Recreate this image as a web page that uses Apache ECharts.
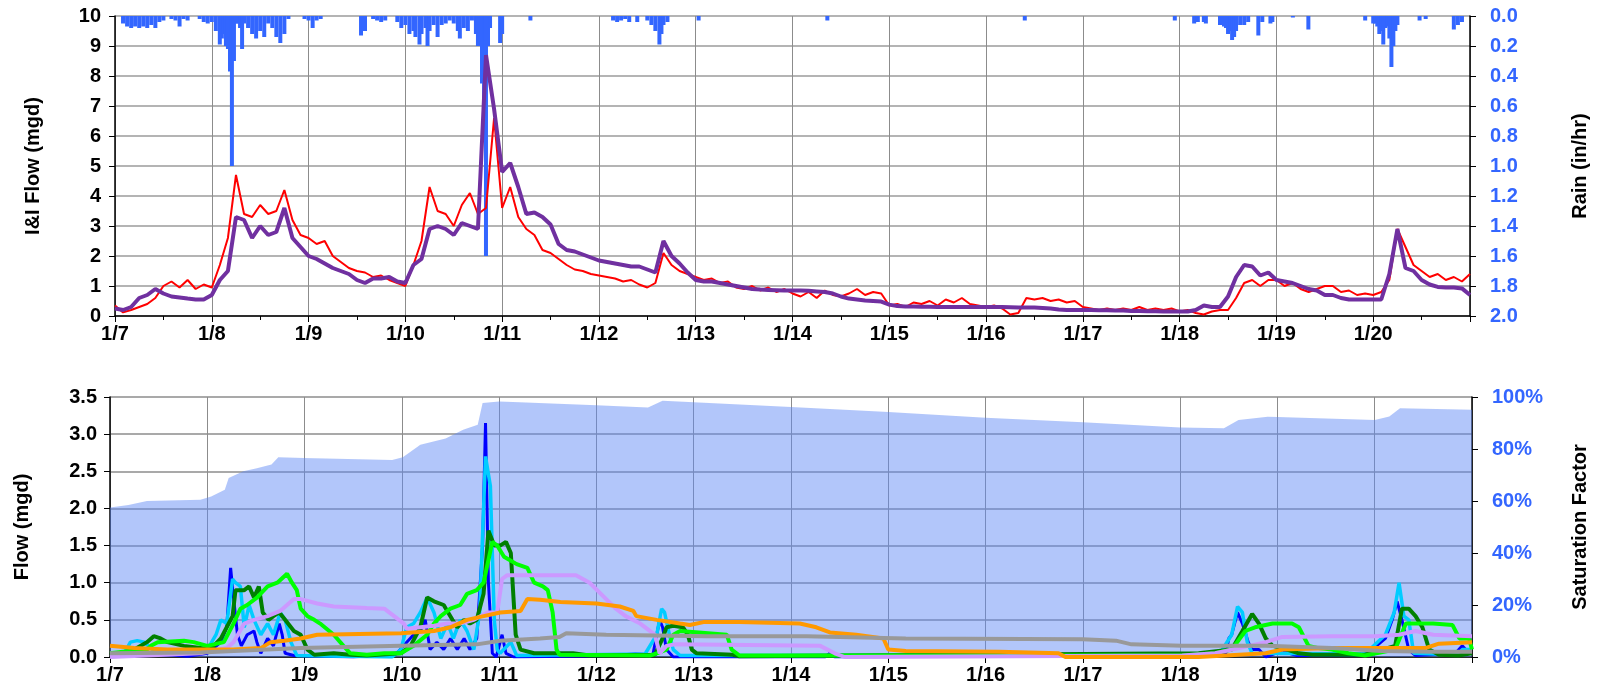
<!DOCTYPE html>
<html>
<head>
<meta charset="utf-8">
<script src="https://cdn.jsdelivr.net/npm/echarts@6/dist/echarts.min.js"></script>
<style>
  html, body { margin: 0; padding: 0; background: #fff; }
  #main { width: 1598px; height: 694px; }
</style>
</head>
<body>
<div id="main"></div>
<script>
var myChart = echarts.init(document.getElementById('main'));

// tick labels for the days (x = days after 1/7 00:00)
const dayLabels = ['1/7', '1/8', '1/9', '1/10', '1/11', '1/12', '1/13', '1/14', '1/15', '1/16', '1/17', '1/18', '1/19', '1/20'];

// I&I flow, one value every 2 hours (12 per day), last one is 1/21 00:00
const observedIi = [
  0.35, 0.12, 0.2, 0.3, 0.4, 0.6, 1.0, 1.15, 0.95, 1.2, 0.9, 1.05,
  0.95, 1.7, 2.6, 4.7, 3.4, 3.3, 3.7, 3.4, 3.5, 4.2, 3.2, 2.7,
  2.6, 2.4, 2.5, 2.0, 1.8, 1.6, 1.5, 1.45, 1.3, 1.35, 1.2, 1.1,
  1.0, 1.7, 2.5, 4.3, 3.5, 3.4, 3.0, 3.7, 4.1, 3.4, 3.6, 6.6,
  3.6, 4.3, 3.3, 2.9, 2.7, 2.2, 2.1, 1.9, 1.7, 1.55, 1.5, 1.4,
  1.35, 1.3, 1.25, 1.15, 1.2, 1.05, 0.95, 1.1, 2.1, 1.7, 1.5, 1.4,
  1.3, 1.2, 1.25, 1.1, 1.15, 0.95, 0.9, 1.0, 0.85, 0.95, 0.8, 0.9,
  0.75, 0.65, 0.8, 0.6, 0.85, 0.7, 0.65, 0.75, 0.9, 0.7, 0.8, 0.75,
  0.35, 0.4, 0.3, 0.45, 0.4, 0.5, 0.35, 0.55, 0.45, 0.6, 0.4, 0.35,
  0.3, 0.35, 0.25, 0.05, 0.1, 0.6, 0.55, 0.6, 0.5, 0.55, 0.45, 0.5,
  0.3, 0.25, 0.2, 0.25, 0.2, 0.25, 0.2, 0.3, 0.2, 0.25, 0.2, 0.25,
  0.15, 0.2, 0.1, 0.05, 0.15, 0.2, 0.2, 0.6, 1.1, 1.2, 1.0, 1.2,
  1.2, 1.0, 1.1, 0.9, 0.8, 0.9, 1.0, 1.0, 0.8, 0.85, 0.7, 0.75,
  0.7, 0.8, 1.2, 2.9, 2.3, 1.7, 1.5, 1.3, 1.4, 1.2, 1.3, 1.15,
  1.4
];
const modeledIi = [
  0.25, 0.2, 0.3, 0.6, 0.7, 0.9, 0.75, 0.65, 0.62, 0.58, 0.55, 0.55,
  0.7, 1.2, 1.5, 3.3, 3.2, 2.6, 3.0, 2.7, 2.8, 3.6, 2.6, 2.3,
  2.0, 1.9, 1.75, 1.6, 1.5, 1.4, 1.2, 1.1, 1.25, 1.25, 1.3, 1.15,
  1.1, 1.7, 1.9, 2.9, 3.0, 2.9, 2.7, 3.1, 3.0, 2.9, 8.7, 6.9,
  4.8, 5.1, 4.3, 3.4, 3.45, 3.3, 3.05, 2.4, 2.2, 2.15, 2.05, 1.95,
  1.85, 1.8, 1.75, 1.7, 1.65, 1.65, 1.55, 1.45, 2.5, 2.0, 1.75, 1.45,
  1.2, 1.15, 1.15, 1.1, 1.05, 1.0, 0.95, 0.9, 0.88, 0.87, 0.86, 0.85,
  0.85, 0.85, 0.84, 0.82, 0.8, 0.75, 0.65, 0.58, 0.55, 0.52, 0.5, 0.48,
  0.38, 0.33, 0.32, 0.32, 0.31, 0.31, 0.3, 0.3, 0.3, 0.3, 0.3, 0.3,
  0.3, 0.3, 0.3, 0.29, 0.28, 0.28, 0.28, 0.27, 0.25, 0.22, 0.2, 0.2,
  0.2, 0.2, 0.19, 0.19, 0.18, 0.18, 0.17, 0.17, 0.16, 0.16, 0.15, 0.15,
  0.15, 0.15, 0.2, 0.35, 0.3, 0.3, 0.65, 1.3, 1.7, 1.65, 1.35, 1.45,
  1.2, 1.15, 1.1, 1.0, 0.9, 0.85, 0.7, 0.7, 0.6, 0.55, 0.55, 0.55,
  0.55, 0.55, 1.4, 2.9, 1.6, 1.5, 1.2, 1.05, 0.97, 0.95, 0.95, 0.92,
  0.7
];

// rain [day, in/hr], roughly hourly during the storms
const rain = [
  [0.083, 0.05], [0.125, 0.07], [0.167, 0.08], [0.208, 0.07], [0.25, 0.08], [0.292, 0.07], [0.333, 0.08],
  [0.375, 0.06], [0.417, 0.08], [0.458, 0.04], [0.5, 0.03], [0.583, 0.02], [0.625, 0.03], [0.667, 0.07],
  [0.708, 0.02], [0.75, 0.03],
  [0.875, 0.02], [0.917, 0.04], [0.958, 0.05], [1.0, 0.04], [1.042, 0.1], [1.083, 0.19], [1.104, 0.15],
  [1.125, 0.12], [1.146, 0.2], [1.167, 0.22], [1.188, 0.37], [1.208, 1.0], [1.229, 0.3], [1.25, 0.05],
  [1.271, 0.05], [1.292, 0.08], [1.313, 0.22], [1.333, 0.05], [1.375, 0.08], [1.417, 0.12], [1.458, 0.15],
  [1.5, 0.1], [1.542, 0.14], [1.583, 0.05], [1.625, 0.08], [1.667, 0.14], [1.708, 0.18], [1.75, 0.12], [1.792, 0.02],
  [1.958, 0.02], [2.0, 0.03], [2.042, 0.08], [2.083, 0.03], [2.125, 0.02],
  [2.542, 0.13], [2.583, 0.1], [2.667, 0.02], [2.708, 0.03], [2.75, 0.04], [2.792, 0.03],
  [2.917, 0.04], [2.958, 0.08], [3.0, 0.06], [3.042, 0.12], [3.083, 0.1], [3.104, 0.14], [3.146, 0.19],
  [3.167, 0.12], [3.208, 0.08], [3.229, 0.2], [3.25, 0.1], [3.292, 0.06], [3.333, 0.14], [3.375, 0.06],
  [3.417, 0.05], [3.458, 0.03], [3.5, 0.05], [3.542, 0.1], [3.563, 0.15], [3.604, 0.08], [3.646, 0.1],
  [3.688, 0.03], [3.729, 0.12], [3.75, 0.2], [3.771, 0.2], [3.792, 0.45], [3.813, 0.8], [3.833, 1.6],
  [3.854, 0.2], [3.875, 0.08], [3.979, 0.18], [4.0, 0.12], [4.292, 0.03],
  [5.146, 0.03], [5.188, 0.04], [5.229, 0.03], [5.271, 0.02], [5.313, 0.04], [5.396, 0.04], [5.5, 0.03],
  [5.542, 0.06], [5.583, 0.1], [5.625, 0.19], [5.646, 0.12], [5.667, 0.06], [5.708, 0.04], [6.03, 0.03],
  [7.36, 0.03], [9.4, 0.03], [10.95, 0.03],
  [11.15, 0.05], [11.188, 0.04], [11.25, 0.04], [11.271, 0.05], [11.417, 0.06], [11.458, 0.07], [11.479, 0.08],
  [11.5, 0.12], [11.521, 0.1], [11.542, 0.16], [11.563, 0.14], [11.583, 0.1], [11.625, 0.06], [11.667, 0.06],
  [11.708, 0.04], [11.813, 0.13], [11.854, 0.04], [11.938, 0.05], [11.958, 0.04], [12.17, 0.01], [12.33, 0.09],
  [12.917, 0.03], [13.0, 0.05], [13.021, 0.05], [13.042, 0.07], [13.063, 0.12], [13.083, 0.1], [13.104, 0.19],
  [13.125, 0.08], [13.146, 0.07], [13.167, 0.15], [13.188, 0.34], [13.208, 0.2], [13.229, 0.1], [13.25, 0.06],
  [13.479, 0.03], [13.542, 0.02], [13.833, 0.09], [13.875, 0.06], [13.917, 0.04]
];

// saturation factor [day, %]
const saturation = [
  [0, 57.5], [0.19, 58.5], [0.38, 60], [0.93, 60.5], [1.04, 61.7], [1.18, 64.3], [1.22, 68.8], [1.37, 71.4],
  [1.51, 72.6], [1.66, 74], [1.73, 76.8], [1.99, 76.5], [2.9, 75.8], [3.01, 76.8], [3.19, 81.6], [3.45, 84],
  [3.63, 87.4], [3.78, 89.3], [3.83, 97.7], [4.0, 98.3], [4.21, 98], [5.0, 96.8], [5.53, 96], [5.68, 98.6],
  [6.0, 98], [7.0, 96.2], [8.0, 94.2], [9.0, 92], [10.0, 90.3], [11.0, 88.3], [11.45, 88], [11.6, 91.2],
  [11.9, 92.4], [12.0, 92.3], [13.0, 91.2], [13.15, 92.5], [13.26, 95.7], [14.0, 95.1]
];

// component flows [day, mgd]
const blueFlow = [
  [0, 0.02], [0.2, 0.04], [0.3, 0.06], [0.4, 0.02], [0.6, 0.03], [0.8, 0.01], [1.0, 0.05], [1.14, 0.2], [1.2, 0.4],
  [1.24, 1.2], [1.27, 0.8], [1.31, 0.3], [1.35, 0.15], [1.41, 0.3], [1.48, 0.35], [1.51, 0.2], [1.55, 0.05],
  [1.62, 0.25], [1.68, 0.15], [1.74, 0.45], [1.77, 0.3], [1.8, 0.05], [1.89, 0.02], [2.5, 0.0], [2.95, 0.05],
  [3.05, 0.2], [3.12, 0.3], [3.19, 0.35], [3.24, 0.5], [3.29, 0.1], [3.36, 0.2], [3.43, 0.1], [3.5, 0.25],
  [3.57, 0.1], [3.64, 0.25], [3.7, 0.1], [3.77, 0.25], [3.83, 1.5], [3.86, 3.15], [3.89, 1.0], [3.93, 0.05],
  [3.97, 0.0], [4.03, 0.3], [4.07, 0.05], [4.15, 0.0], [5.14, 0.02], [5.4, 0.04], [5.58, 0.03], [5.62, 0.3],
  [5.65, 0.5], [5.68, 0.4], [5.72, 0.1], [5.79, 0.0], [7.35, 0.0], [7.4, 0.05], [7.45, 0.0], [10.95, 0.03],
  [11.47, 0.05], [11.5, 0.25], [11.53, 0.3], [11.59, 0.6], [11.64, 0.45], [11.7, 0.2], [11.74, 0.1], [11.81, 0.1],
  [11.88, 0.0], [11.98, 0.05], [12.05, 0.1], [12.12, 0.05], [12.2, 0.02], [12.9, 0.02], [13.11, 0.25], [13.18, 0.5],
  [13.23, 0.75], [13.28, 0.5], [13.35, 0.1], [13.42, 0.02], [13.83, 0.05], [13.9, 0.15], [13.97, 0.05], [14, 0.05]
];
const cyanFlow = [
  [0, 0.05], [0.15, 0.06], [0.21, 0.2], [0.28, 0.22], [0.35, 0.2], [0.42, 0.12], [0.49, 0.05], [0.93, 0.05],
  [1.0, 0.1], [1.09, 0.3], [1.14, 0.5], [1.2, 0.45], [1.26, 1.05], [1.29, 1.0], [1.34, 0.95], [1.38, 0.4],
  [1.43, 0.7], [1.48, 0.5], [1.55, 0.3], [1.62, 0.45], [1.68, 0.3], [1.75, 0.6], [1.8, 0.5], [1.86, 0.2],
  [1.92, 0.02], [2.9, 0.0], [2.99, 0.1], [3.05, 0.4], [3.12, 0.45], [3.19, 0.6], [3.26, 0.8], [3.33, 0.6],
  [3.4, 0.25], [3.47, 0.45], [3.53, 0.25], [3.6, 0.5], [3.67, 0.35], [3.74, 0.1], [3.8, 0.6], [3.86, 2.7],
  [3.91, 2.3], [3.95, 0.5], [3.98, 0.1], [4.01, 0.05], [4.12, 0.2], [4.18, 0.02], [5.5, 0.04], [5.62, 0.3],
  [5.67, 0.65], [5.7, 0.6], [5.75, 0.3], [5.79, 0.1], [5.86, 0.02], [11.4, 0.03], [11.53, 0.3], [11.59, 0.68],
  [11.64, 0.6], [11.69, 0.2], [11.74, 0.05], [12.9, 0.04], [13.11, 0.3], [13.2, 0.6], [13.25, 1.0], [13.3, 0.55],
  [13.35, 0.5], [13.4, 0.05], [13.85, 0.03], [13.9, 0.1], [14, 0.1]
];
const darkGreenFlow = [
  [0, 0.02], [0.25, 0.1], [0.38, 0.2], [0.45, 0.28], [0.52, 0.25], [0.59, 0.2], [0.76, 0.15], [0.93, 0.12],
  [1.03, 0.1], [1.14, 0.25], [1.2, 0.4], [1.26, 0.55], [1.29, 0.9], [1.38, 0.9], [1.43, 0.95], [1.48, 0.8],
  [1.53, 0.95], [1.57, 0.6], [1.63, 0.5], [1.68, 0.55], [1.74, 0.6], [1.8, 0.5], [1.89, 0.35], [1.96, 0.3],
  [2.03, 0.1], [2.1, 0.03], [2.3, 0.05], [2.47, 0.03], [2.64, 0.02], [2.99, 0.05], [3.09, 0.15], [3.19, 0.4],
  [3.26, 0.8], [3.33, 0.75], [3.43, 0.7], [3.52, 0.5], [3.57, 0.4], [3.64, 0.5], [3.7, 0.45], [3.77, 0.5],
  [3.84, 0.85], [3.89, 1.7], [3.95, 1.5], [4.01, 1.5], [4.07, 1.55], [4.12, 1.4], [4.17, 0.3], [4.22, 0.1],
  [4.36, 0.05], [4.76, 0.05], [4.93, 0.02], [5.6, 0.03], [5.68, 0.25], [5.72, 0.4], [5.79, 0.42], [5.89, 0.4],
  [5.94, 0.3], [5.98, 0.1], [6.03, 0.05], [6.4, 0.03], [6.47, 0.01], [11.19, 0.05], [11.53, 0.1], [11.64, 0.35],
  [11.74, 0.58], [11.81, 0.45], [11.88, 0.25], [11.95, 0.15], [12.05, 0.12], [12.22, 0.05], [12.36, 0.03],
  [12.9, 0.03], [13.21, 0.15], [13.28, 0.65], [13.35, 0.65], [13.42, 0.55], [13.49, 0.4], [13.56, 0.1],
  [13.66, 0.03], [13.86, 0.02], [14, 0.05]
];
const greenFlow = [
  [0, 0.05], [0.2, 0.08], [0.38, 0.1], [0.42, 0.15], [0.49, 0.2], [0.76, 0.22], [0.86, 0.2], [1.0, 0.15],
  [1.17, 0.2], [1.27, 0.45], [1.34, 0.65], [1.41, 0.7], [1.51, 0.8], [1.62, 0.95], [1.72, 1.0], [1.82, 1.12],
  [1.87, 1.0], [1.92, 0.9], [1.96, 0.65], [2.03, 0.55], [2.1, 0.5], [2.16, 0.45], [2.3, 0.3], [2.4, 0.15],
  [2.47, 0.05], [2.64, 0.03], [2.82, 0.05], [2.99, 0.05], [3.12, 0.15], [3.26, 0.3], [3.33, 0.45], [3.4, 0.55],
  [3.5, 0.65], [3.6, 0.7], [3.67, 0.85], [3.77, 0.9], [3.84, 1.0], [3.93, 1.55], [3.98, 1.5], [4.05, 1.35],
  [4.18, 1.25], [4.29, 1.2], [4.36, 1.0], [4.45, 0.95], [4.5, 0.9], [4.55, 0.6], [4.59, 0.1], [4.62, 0.03],
  [5.55, 0.02], [5.62, 0.05], [5.72, 0.1], [5.79, 0.3], [5.86, 0.35], [6.34, 0.3], [6.39, 0.1], [6.47, 0.02],
  [11.02, 0.02], [11.36, 0.05], [11.53, 0.1], [11.67, 0.35], [11.77, 0.4], [11.95, 0.45], [12.15, 0.45],
  [12.22, 0.4], [12.32, 0.15], [12.42, 0.12], [12.56, 0.1], [12.73, 0.05], [12.9, 0.02], [13.21, 0.1],
  [13.32, 0.45], [13.6, 0.45], [13.8, 0.43], [13.87, 0.25], [13.97, 0.25], [14, 0.1]
];
const lavenderFlow = [
  [0, 0.0], [0.93, 0.05], [1.03, 0.08], [1.2, 0.12], [1.27, 0.2], [1.38, 0.45], [1.48, 0.5], [1.62, 0.55],
  [1.75, 0.62], [1.89, 0.78], [1.96, 0.78], [2.13, 0.72], [2.3, 0.68], [2.64, 0.66], [2.82, 0.65], [2.92, 0.55],
  [3.02, 0.45], [3.05, 0.38], [3.33, 0.42], [3.47, 0.45], [3.6, 0.45], [3.74, 0.5], [3.88, 0.6], [3.98, 0.6],
  [4.03, 1.05], [4.08, 1.1], [4.79, 1.1], [4.93, 1.0], [5.1, 0.78], [5.2, 0.65], [5.3, 0.55], [5.45, 0.45],
  [5.6, 0.3], [5.65, 0.05], [5.72, 0.15], [5.8, 0.17], [7.3, 0.15], [7.45, 0.05], [7.55, 0.0], [11.02, 0.02],
  [11.36, 0.05], [11.71, 0.15], [11.88, 0.2], [12.05, 0.27], [12.56, 0.28], [13.0, 0.28], [13.25, 0.3],
  [13.42, 0.35], [13.6, 0.3], [14, 0.28]
];
const orangeFlow = [
  [0, 0.15], [0.25, 0.12], [0.59, 0.1], [1.27, 0.1], [1.55, 0.12], [1.65, 0.2], [1.79, 0.22], [1.96, 0.25],
  [2.13, 0.3], [2.99, 0.32], [3.33, 0.35], [3.5, 0.4], [3.67, 0.5], [3.84, 0.55], [4.01, 0.6], [4.22, 0.62],
  [4.29, 0.78], [4.42, 0.77], [4.63, 0.74], [5.0, 0.72], [5.24, 0.68], [5.38, 0.62], [5.41, 0.55], [5.62, 0.5],
  [5.86, 0.45], [5.96, 0.43], [6.1, 0.47], [6.47, 0.47], [7.09, 0.45], [7.26, 0.4], [7.4, 0.33], [7.67, 0.3],
  [7.95, 0.25], [8.0, 0.1], [8.18, 0.08], [9.14, 0.07], [9.75, 0.05], [9.82, 0.0], [11.19, 0.0], [11.88, 0.05],
  [12.05, 0.1], [12.56, 0.12], [13.52, 0.12], [13.66, 0.18], [14, 0.2]
];
const grayFlow = [
  [0, 0.05], [0.93, 0.06], [1.96, 0.12], [2.99, 0.15], [3.77, 0.17], [4.01, 0.22], [4.42, 0.25], [4.62, 0.27],
  [4.69, 0.32], [5.1, 0.3], [6.13, 0.28], [7.16, 0.28], [8.18, 0.25], [10.0, 0.24], [10.34, 0.22], [10.5, 0.17],
  [11.02, 0.15], [11.88, 0.15], [12.56, 0.12], [13.07, 0.08], [13.6, 0.07], [14, 0.07]
];

const font = 'Liberation Sans, Arial, sans-serif';
const blueText = '#3366ff';

// 2-hour samples -> [day, value]
function byTwoHours(arr) {
  return arr.map((v, i) => [i / 12, v]);
}

function dayAxis(grid, margin) {
  return {
    type: 'value', gridIndex: grid, min: 0, max: 14, interval: 1,
    axisLine: { onZero: false, lineStyle: { color: '#000', width: 1.5 } },
    axisTick: { length: 6, lineStyle: { color: '#000' } },
    minorTick: { show: grid === 0, splitNumber: 2, length: 4, lineStyle: { color: '#000' } },
    splitLine: { show: true, lineStyle: { color: '#8c8c8c', width: 1 } },
    axisLabel: {
      margin: margin, fontFamily: font, fontWeight: 'bold', fontSize: 20, color: '#000',
      formatter: v => dayLabels[Math.round(v)] || ''
    }
  };
}

function lineSeries(name, data, color, width, z) {
  return {
    name: name, type: 'line', xAxisIndex: 1, yAxisIndex: 2, data: data,
    showSymbol: false, symbol: 'none', z: z,
    lineStyle: { color: color, width: width }, itemStyle: { color: color }
  };
}

var option = {
  animation: false,
  backgroundColor: '#fff',
  grid: [
    { left: 115, right: 123, top: 16, height: 300 },
    { left: 110, right: 123, top: 397, height: 260 }
  ],
  xAxis: [dayAxis(0, 8), dayAxis(1, 8)],
  yAxis: [
    {
      type: 'value', gridIndex: 0, min: 0, max: 10, interval: 1,
      name: 'I&I Flow (mgd)', nameLocation: 'middle', nameRotate: 90, nameGap: 72,
      nameTextStyle: { fontFamily: font, fontWeight: 'bold', fontSize: 20, color: '#000' },
      axisLine: { show: true, lineStyle: { color: '#000', width: 1.5 } },
      axisTick: { show: true, length: 6, lineStyle: { color: '#000' } },
      splitLine: { show: true, lineStyle: { color: '#b4b4b4', width: 2 } },
      axisLabel: { margin: 14, fontFamily: font, fontWeight: 'bold', fontSize: 20, color: '#000' }
    },
    {
      type: 'value', gridIndex: 0, position: 'right', inverse: true, min: 0, max: 2, interval: 0.2,
      name: 'Rain (in/hr)', nameLocation: 'middle', nameRotate: 90, nameGap: 100,
      nameTextStyle: { fontFamily: font, fontWeight: 'bold', fontSize: 20, color: '#000' },
      axisLine: { show: true, lineStyle: { color: '#000', width: 1.5 } },
      axisTick: { show: true, length: 6, lineStyle: { color: '#000' } },
      splitLine: { show: false },
      axisLabel: {
        margin: 20, fontFamily: font, fontWeight: 'bold', fontSize: 20, color: blueText,
        formatter: v => v.toFixed(1)
      }
    },
    {
      type: 'value', gridIndex: 1, min: 0, max: 3.5, interval: 0.5,
      name: 'Flow (mgd)', nameLocation: 'middle', nameRotate: 90, nameGap: 78,
      nameTextStyle: { fontFamily: font, fontWeight: 'bold', fontSize: 20, color: '#000' },
      axisLine: { show: true, lineStyle: { color: '#000', width: 1.5 } },
      axisTick: { show: true, length: 6, lineStyle: { color: '#000' } },
      splitLine: { show: true, lineStyle: { color: '#8c8c8c', width: 1.5 } },
      axisLabel: {
        margin: 13, fontFamily: font, fontWeight: 'bold', fontSize: 20, color: '#000',
        formatter: v => v.toFixed(1)
      }
    },
    {
      type: 'value', gridIndex: 1, position: 'right', min: 0, max: 100, interval: 20,
      name: 'Saturation Factor', nameLocation: 'middle', nameRotate: 90, nameGap: 98,
      nameTextStyle: { fontFamily: font, fontWeight: 'bold', fontSize: 20, color: '#000' },
      axisLine: { show: true, lineStyle: { color: '#000', width: 1.5 } },
      axisTick: { show: true, length: 6, lineStyle: { color: '#000' } },
      splitLine: { show: false },
      axisLabel: {
        margin: 20, fontFamily: font, fontWeight: 'bold', fontSize: 20, color: blueText,
        formatter: v => v + '%'
      }
    }
  ],
  series: [
    {
      name: 'Rain', type: 'bar', xAxisIndex: 0, yAxisIndex: 1, data: rain,
      barWidth: 4, itemStyle: { color: '#3366ff' }, z: 1
    },
    {
      name: 'Observed I&I', type: 'line', xAxisIndex: 0, yAxisIndex: 0, data: byTwoHours(observedIi),
      showSymbol: false, symbol: 'none', z: 2,
      lineStyle: { color: '#ff0000', width: 2 }
    },
    {
      name: 'Modeled I&I', type: 'line', xAxisIndex: 0, yAxisIndex: 0, data: byTwoHours(modeledIi),
      showSymbol: false, symbol: 'none', z: 3,
      lineStyle: { color: '#7030a0', width: 4 }
    },
    {
      name: 'Saturation', type: 'line', xAxisIndex: 1, yAxisIndex: 3, data: saturation,
      showSymbol: false, symbol: 'none', z: 1,
      lineStyle: { width: 0, opacity: 0 },
      areaStyle: { color: 'rgba(95,135,245,0.48)', opacity: 1 }
    },
    lineSeries('Flow 1', blueFlow, '#0000ff', 3, 2),
    lineSeries('Flow 2', cyanFlow, '#00ccff', 3.5, 3),
    lineSeries('Flow 3', darkGreenFlow, '#008000', 4, 4),
    lineSeries('Flow 4', greenFlow, '#00ff00', 4, 5),
    lineSeries('Flow 5', lavenderFlow, '#cc99ff', 4, 6),
    lineSeries('Flow 6', orangeFlow, '#ff9900', 4, 7),
    lineSeries('Flow 7', grayFlow, '#999999', 4, 8)
  ]
};

myChart.setOption(option);
</script>
</body>
</html>
